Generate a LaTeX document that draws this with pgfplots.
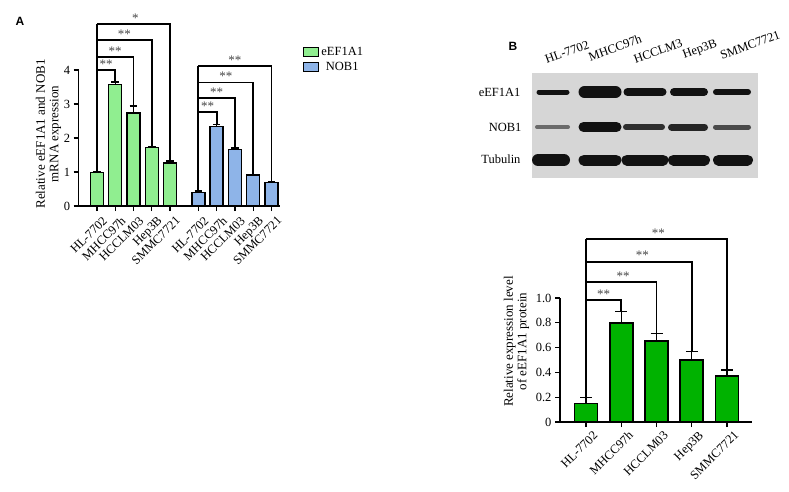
\documentclass[border=0pt]{standalone}
\usepackage{fontspec}
\setmainfont{Liberation Serif}
\newfontfamily\sansfont{Liberation Sans}
\usepackage{pgfplots}
\pgfplotsset{compat=1.18}
\definecolor{lgreen}{RGB}{144,238,144}
\definecolor{lblue}{RGB}{142,180,232}
\definecolor{dgreen}{RGB}{0,178,0}
\definecolor{blotbg}{RGB}{214,214,214}
\definecolor{stargray}{RGB}{70,70,70}
\definecolor{bandc}{RGB}{18,18,18}
\pgfplotsset{
  myax/.style={
    scale only axis, clip=false,
    axis x line*=bottom, axis y line*=left,
    axis line style={line width=1.5pt},
    tick align=outside, major tick length=5pt,
    tick style={line width=1.3pt, black},
    /pgf/number format/assume math mode=true,
    y tick label style={font=\fontsize{12.5}{14}\selectfont},
    x tick label style={xshift=5pt, yshift=-3pt, rotate=45, anchor=north east, font=\fontsize{12.5}{13}\selectfont, inner sep=1pt},
    ybar, bar shift=0pt,
  },
  brk/.style={sharp plot, no marks, black, line width=1.8pt, forget plot},
  eb/.style={error bars/.cd, y dir=plus, y explicit,
    error bar style={line width=1.3pt, black},
    error mark options={rotate=90, mark size=#1, line width=1.3pt, black}, /pgfplots/.cd},
  sqleg/.style={legend image code/.code={\draw[##1] (0pt,-4.5pt) rectangle (15pt,4.5pt);}},
}
\begin{document}
\begin{tikzpicture}
\fill[white] (0pt,0pt) rectangle (789pt,-491pt);
\tikzset{star/.style={font=\fontsize{13}{13}\selectfont, text=stargray, inner sep=1pt, yshift=6pt}}

% ---------------- Panel A ----------------
\begin{axis}[myax,
  at={(78.7pt,-206pt)}, anchor=south west,
  width=201pt, height=136pt,
  xmin=0, xmax=11, ymin=0, ymax=4,
  ytick={0,1,2,3,4},
  xtick={1,2,3,4,5,6.55,7.55,8.55,9.55,10.55},
  xticklabels={HL-7702,MHCC97h,HCCLM03,Hep3B,SMMC7721,HL-7702,MHCC97h,HCCLM03,Hep3B,SMMC7721},
  bar width=13pt,
  ylabel={Relative eEF1A1 and NOB1\\mRNA expression},
  ylabel style={at={(axis description cs:-0.15,0.53)}, anchor=center, align=center, font=\fontsize{13}{13.5}\selectfont},
  legend style={at={(axis description cs:1.11,1.19)}, anchor=north west, draw=none, fill=none,
    font=\fontsize{12.5}{14}\selectfont, row sep=1pt, inner sep=1pt},
]
\addplot[fill=lgreen, draw=black, line width=1.4pt, sqleg, eb=3.8pt]
  coordinates {(1,0.99) +- (0,0.03) (2,3.58) +- (0,0.07) (3,2.74) +- (0,0.2) (4,1.72) +- (0,0.04) (5,1.26) +- (0,0.06)};
\addlegendentry{eEF1A1}
\addplot[fill=lblue, draw=black, line width=1.4pt, sqleg, eb=3.8pt]
  coordinates {(6.55,0.40) +- (0,0.04) (7.55,2.33) +- (0,0.07) (8.55,1.67) +- (0,0.04) (9.55,0.91) +- (0,0.02) (10.55,0.685) +- (0,0.04)};
\addlegendentry{NOB1}
% brackets green
\addplot[brk] coordinates {(1,1.03) (1,5.35)};
\addplot[brk] coordinates {(1,4.0) (2,4.0) (2,3.66)};
\addplot[brk] coordinates {(1,4.38) (3,4.38) (3,2.95)};
\addplot[brk] coordinates {(1,4.88) (4,4.88) (4,1.77)};
\addplot[brk] coordinates {(1,5.35) (5,5.35) (5,1.33)};
% brackets blue
\addplot[brk] coordinates {(6.55,0.45) (6.55,4.12)};
\addplot[brk] coordinates {(6.55,2.76) (7.55,2.76) (7.55,2.41)};
\addplot[brk] coordinates {(6.55,3.18) (8.55,3.18) (8.55,1.72)};
\addplot[brk] coordinates {(6.55,3.63) (9.55,3.63) (9.55,0.94)};
\addplot[brk] coordinates {(6.55,4.12) (10.55,4.12) (10.55,0.74)};
\node[star] at (axis cs:1.5,4.0) {**};
\node[star] at (axis cs:2,4.38) {**};
\node[star] at (axis cs:2.5,4.88) {**};
\node[star] at (axis cs:3.1,5.35) {*};
\node[star] at (axis cs:7.05,2.76) {**};
\node[star] at (axis cs:7.55,3.18) {**};
\node[star] at (axis cs:8.05,3.63) {**};
\node[star] at (axis cs:8.55,4.12) {**};
\end{axis}

% ---------------- Blot ----------------
\begin{axis}[at={(532pt,-178pt)}, anchor=south west, scale only axis,
  width=226pt, height=105pt, xmin=532, xmax=758, ymin=0, ymax=105,
  axis background/.style={fill=blotbg}, axis line style={draw=none},
  xtick=\empty, ytick=\empty, clip=true]
% eEF1A1 row
\addplot[bandc, line width=5pt, line cap=round] coordinates {(539,86) (567,86)};
\addplot[bandc, line width=12pt, line cap=round] coordinates {(584.5,86) (615.5,86)};
\addplot[bandc, line width=8pt, line cap=round] coordinates {(627.5,86) (662.5,86)};
\addplot[bandc, line width=8pt, line cap=round] coordinates {(674,86) (704,86)};
\addplot[bandc, line width=6pt, line cap=round] coordinates {(716,86) (748,86)};
% NOB1 row
\addplot[black!50!blotbg, line width=4pt, line cap=round] coordinates {(537,51) (568,51)};
\addplot[bandc, line width=10pt, line cap=round] coordinates {(583.5,51) (616.5,51)};
\addplot[bandc!85!blotbg, line width=6pt, line cap=round] coordinates {(626,51) (662,51)};
\addplot[bandc!90!blotbg, line width=7pt, line cap=round] coordinates {(671.5,51) (704.5,51)};
\addplot[black!65!blotbg, line width=5pt, line cap=round] coordinates {(715.5,51) (748.5,51)};
% Tubulin row
\addplot[bandc, line width=12pt, line cap=round] coordinates {(538,18) (564,18)};
\addplot[bandc, line width=11pt, line cap=round] coordinates {(584,18) (616,18)};
\addplot[bandc, line width=11pt, line cap=round] coordinates {(627,18) (663,18)};
\addplot[bandc, line width=11pt, line cap=round] coordinates {(673.5,18) (704.5,18)};
\addplot[bandc, line width=11pt, line cap=round] coordinates {(718.5,18) (747.5,18)};
\end{axis}
\begin{scope}[every node/.style={font=\fontsize{12.5}{14}\selectfont}]
\node[anchor=east] at (524pt,-92pt) {eEF1A1};
\node[anchor=east] at (525pt,-127pt) {NOB1};
\node[anchor=east] at (524pt,-159pt) {Tubulin};
\node[rotate=20] at (567pt,-52pt) {HL-7702};
\node[rotate=20] at (615pt,-48pt) {MHCC97h};
\node[rotate=20] at (658pt,-51pt) {HCCLM3};
\node[rotate=20] at (700pt,-50pt) {Hep3B};
\node[rotate=20] at (750pt,-45pt) {SMMC7721};
\end{scope}

% ---------------- Panel B chart ----------------
\begin{axis}[myax,
  at={(560pt,-422pt)}, anchor=south west,
  width=192pt, height=124pt,
  xmin=0.26, xmax=5.71, ymin=0, ymax=1,
  ytick={0,0.2,0.4,0.6,0.8,1.0}, yticklabels={0,0.2,0.4,0.6,0.8,1.0},
  xtick={1,2,3,4,5},
  xticklabels={HL-7702,MHCC97h,HCCLM03,Hep3B,SMMC7721},
  x tick label style={xshift=2pt},
  bar width=23pt,
  ylabel={Relative expression level\\of eEF1A1 protein},
  ylabel style={at={(axis description cs:-0.2266,0.649)}, anchor=center, align=center, font=\fontsize{13}{13.5}\selectfont},
]
\addplot[fill=dgreen, draw=black, line width=1.7pt, eb=6pt]
  coordinates {(1,0.15) +- (0,0.05) (2,0.80) +- (0,0.09) (3,0.656) +- (0,0.055) (4,0.50) +- (0,0.07) (5,0.373) +- (0,0.047)};
\addplot[brk] coordinates {(1,0.205) (1,1.473)};
\addplot[brk] coordinates {(1,0.984) (2,0.984) (2,0.895)};
\addplot[brk] coordinates {(1,1.127) (3,1.127) (3,0.715)};
\addplot[brk] coordinates {(1,1.293) (4,1.293) (4,0.575)};
\addplot[brk] coordinates {(1,1.473) (5,1.473) (5,0.425)};
\node[star] at (axis cs:1.5,0.984) {**};
\node[star] at (axis cs:2.05,1.127) {**};
\node[star] at (axis cs:2.6,1.293) {**};
\node[star] at (axis cs:3.05,1.473) {**};
\end{axis}

\node[font=\sansfont\bfseries\fontsize{12}{12}\selectfont] at (20pt,-21pt) {A};
\node[font=\sansfont\bfseries\fontsize{12}{12}\selectfont] at (513pt,-46pt) {B};
\pgfresetboundingbox
\path (0pt,0pt) rectangle (789pt,-491pt);
\end{tikzpicture}
\end{document}
